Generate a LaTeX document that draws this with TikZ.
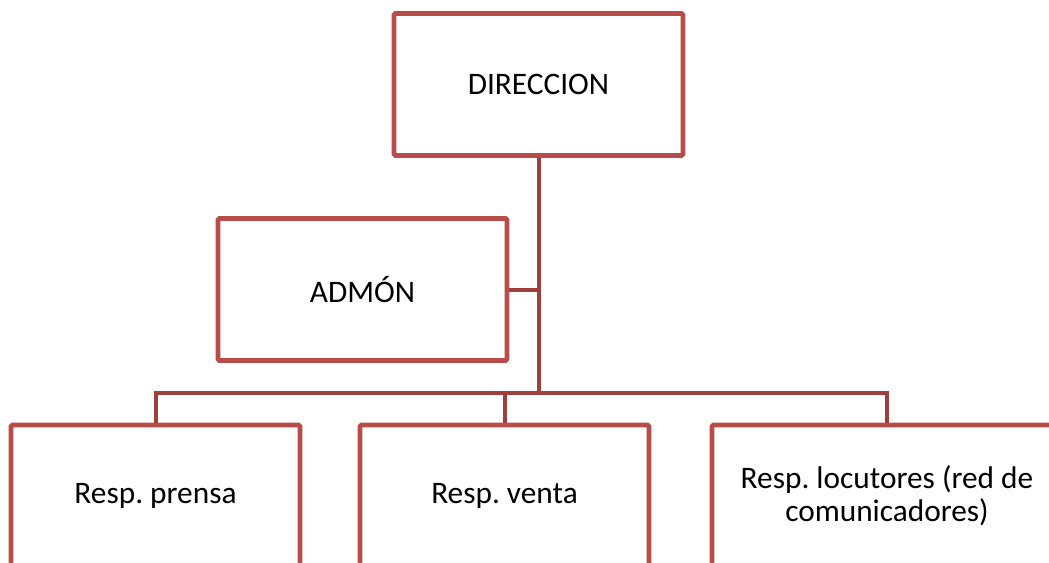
\documentclass[tikz,border=0pt]{standalone}
\usepackage{fontspec}
\setmainfont{Carlito}
\frenchspacing
\definecolor{boxcolor}{RGB}{184,76,74}
\definecolor{orgedgecolor}{RGB}{160,62,60}
\usetikzlibrary{calc,positioning}
\tikzstyle{every node}=[font=\fontsize{23.5}{24.8}\selectfont]
\tikzstyle{orgbox}=[rectangle,draw=boxcolor,line width=3.4pt,rounded corners=1pt,fill=white,minimum width=289*0.75pt,minimum height=142*0.75pt,inner sep=0pt,align=center]
\tikzstyle{wide orgbox}=[orgbox,minimum width=350*0.75pt]
\tikzstyle{orgedge}=[line width=3pt,orgedgecolor]

\begin{document}
\begin{tikzpicture}[x=0.75pt,y=-0.75pt]
\def\boxrow{496}
\def\busy{393}

    \useasboundingbox (0,0) rectangle (1049,563);
    \clip (0,0) rectangle (1049,563);

	% Top
    \node[orgbox] (dir) at (538.5,84.5) {DIRECCION};
    \node[orgbox] (adm) at (362.5,289.5) {ADMÓN};

	% Bottom row
    \node[orgbox] (R-1) at (155.5,\boxrow) {Resp. prensa};
    \node[orgbox] (R-2) at (504.5,\boxrow) {Resp. venta};
    \node[wide orgbox] (R-3) at (887,\boxrow) {Resp. locutores (red de\\comunicadores)};

    \coordinate (bus) at (dir.south |- 0,\busy);

	% Connectors
    \draw[orgedge] (dir.south) -- (bus);
    \draw[orgedge] (adm.east) -- (adm.east -| bus);
    \foreach \i in {1,...,3}
        \draw[orgedge] (bus) -| (R-\i.north);

\end{tikzpicture}
\end{document}
